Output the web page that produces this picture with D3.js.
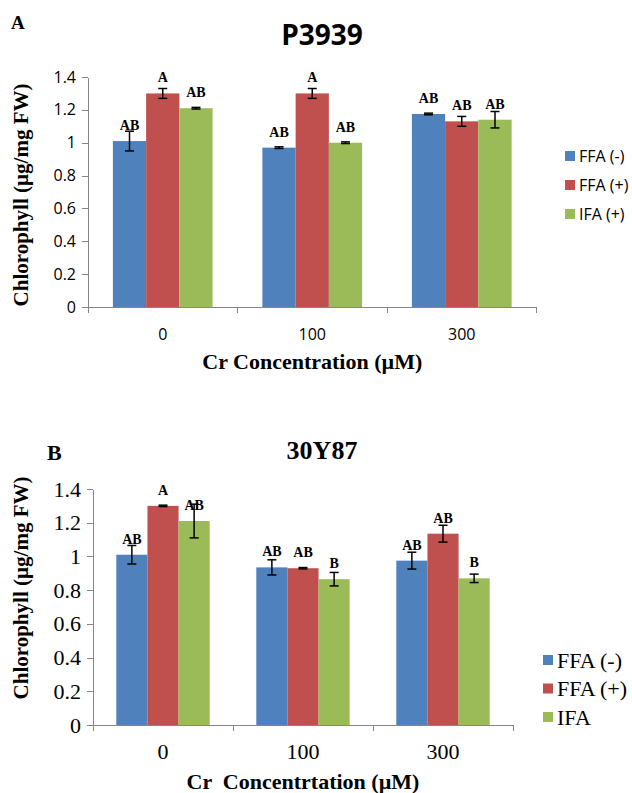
<!DOCTYPE html>
<meta charset="utf-8">
<head>
    <script src="https://d3js.org/d3.v7.min.js"></script>
    <style>
        body { margin: 0; background: #fff; }
        .axis path, .axis line { stroke: #868686; shape-rendering: crispEdges; }
    </style>
</head>
<body>
<div id="my_dataviz"></div>
<script>

// ---- data ----
var concentrations = ["0", "100", "300"];
var colors = ["#4F81BD", "#C0504D", "#9BBB59"];

// panel A : P3939
var seriesA = ["FFA (-)", "FFA (+)", "IFA (+)"];
var ffaMinusA = [1.01, 0.97, 1.175];
var ffaPlusA  = [1.30, 1.30, 1.13];
var ifaA      = [1.21, 1.00, 1.14];
var errMinusA = [0.06, 0.005, 0.005];
var errPlusA  = [0.03, 0.03, 0.03];
var errIfaA   = [0.005, 0.005, 0.05];
var lettersA  = [["AB", "AB", "AB"], ["A", "A", "AB"], ["AB", "AB", "AB"]];

// panel B : 30Y87
var seriesB = ["FFA (-)", "FFA (+)", "IFA"];
var ffaMinusB = [1.01, 0.935, 0.975];
var ffaPlusB  = [1.30, 0.93, 1.135];
var ifaB      = [1.21, 0.865, 0.87];
var errMinusB = [0.055, 0.045, 0.05];
var errPlusB  = [0.004, 0.004, 0.05];
var errIfaB   = [0.1, 0.04, 0.025];
var lettersB  = [["AB", "AB", "AB"], ["A", "AB", "AB"], ["AB", "B", "B"]];

var yTicks = [0, 0.2, 0.4, 0.6, 0.8, 1, 1.2, 1.4];

var svg = d3.select("#my_dataviz").append("svg")
    .attr("width", 632)
    .attr("height", 793);

// draws one panel
function drawPanel(p) {
    var g = svg.append("g");

    var x = d3.scaleBand().domain(concentrations).range([p.left, p.right]);
    var gw = x.bandwidth() * 0.667;
    var xs = d3.scaleBand().domain([0, 1, 2])
        .range([(x.bandwidth() - gw) / 2, (x.bandwidth() + gw) / 2]);
    var y = d3.scaleLinear().domain([0, 1.4]).range([p.bottom, p.top]);

    // y axis
    var yAxis = g.append("g").attr("class", "axis")
        .attr("transform", "translate(" + p.left + ",0)")
        .call(d3.axisLeft(y).tickValues(yTicks).tickSize(6).tickSizeOuter(0)
            .tickFormat(function (d) { return d3.format("")(+d.toFixed(1)); }));
    yAxis.selectAll("text")
        .attr("x", -p.tickGap)
        .style("font-family", p.tickFont).style("font-size", p.tickSize + "px")
        .style("fill", "#000");

    // x axis: ticks at category boundaries
    var xa = g.append("g").attr("class", "axis");
    xa.append("line")
        .attr("x1", p.left).attr("x2", p.right)
        .attr("y1", p.bottom).attr("y2", p.bottom);
    var bounds = concentrations.map(function (c) { return x(c); }).concat([p.right]);
    xa.selectAll(".xt").data(bounds).enter().append("line")
        .attr("x1", function (d) { return d; }).attr("x2", function (d) { return d; })
        .attr("y1", p.bottom).attr("y2", p.bottom + 6);
    g.selectAll(".xl").data(concentrations).enter().append("text")
        .attr("x", function (d) { return x(d) + x.bandwidth() / 2; })
        .attr("y", p.bottom + p.xLabelDy)
        .attr("text-anchor", "middle")
        .style("font-family", p.tickFont).style("font-size", p.tickSize + "px")
        .text(function (d) { return d; });

    // bars
    p.values.forEach(function (vals, s) {
        var sg = g.append("g");
        sg.selectAll("rect").data(vals).enter().append("rect")
            .attr("x", function (d, i) { return x(concentrations[i]) + xs(s); })
            .attr("width", xs.bandwidth())
            .attr("y", function (d) { return y(d); })
            .attr("height", function (d) { return p.bottom - y(d); })
            .style("fill", colors[s]);

        // error bars
        vals.forEach(function (v, i) {
            var cx = x(concentrations[i]) + xs(s) + xs.bandwidth() / 2;
            var e = p.errors[s][i];
            var hi = y(v + e), lo = y(v - e);
            sg.append("line").attr("x1", cx).attr("x2", cx).attr("y1", hi).attr("y2", lo)
                .style("stroke", "#000").style("stroke-width", 1.5);
            [hi, lo].forEach(function (yy) {
                sg.append("line").attr("x1", cx - 4.5).attr("x2", cx + 4.5)
                    .attr("y1", yy).attr("y2", yy)
                    .style("stroke", "#000").style("stroke-width", 1.5);
            });
            sg.append("text")
                .attr("x", cx).attr("y", y(v) - p.letterOffset)
                .attr("text-anchor", "middle")
                .style("font-family", "Liberation Serif").style("font-weight", "bold")
                .style("font-size", p.letterSize + "px")
                .text(p.letters[s][i]);
        });
    });

    // legend
    var lg = g.selectAll(".lg").data(p.series).enter().append("g")
        .attr("transform", function (d, i) { return "translate(" + p.legX + "," + (p.legY + i * p.legStep) + ")"; });
    lg.append("rect").attr("x", 0).attr("y", -5).attr("width", 10).attr("height", 10)
        .style("fill", function (d, i) { return colors[i]; });
    lg.append("text").attr("x", p.legTextDx).attr("dy", "0.35em")
        .style("font-family", p.legFont).style("font-size", p.legSize + "px")
        .text(function (d) { return d; });

    // titles
    g.append("text").attr("x", p.titleX).attr("y", p.titleY)
        .attr("text-anchor", "middle")
        .style("font-family", p.titleFont).style("font-weight", "bold")
        .style("font-size", p.titleSize + "px")
        .text(p.title);
    g.append("text").attr("x", p.panelX).attr("y", p.panelY)
        .style("font-family", "Liberation Serif").style("font-weight", "bold")
        .style("font-size", p.panelSize + "px")
        .text(p.panel);
    g.append("text")
        .attr("transform", "translate(" + p.yTitleX + "," + p.yTitleY + ") rotate(-90)")
        .attr("text-anchor", "middle").attr("dy", "0.35em")
        .style("font-family", "Liberation Serif").style("font-weight", "bold")
        .style("font-size", "21px")
        .text("Chlorophyll (µg/mg FW)");
    g.append("text").attr("x", (p.left + p.right) / 2).attr("y", p.xTitleY)
        .attr("text-anchor", "middle")
        .style("font-family", "Liberation Serif").style("font-weight", "bold")
        .style("font-size", "22px").style("white-space", "pre")
        .text(p.xTitle);
}

drawPanel({
    left: 88, right: 536.5, top: 77, bottom: 307,
    values: [ffaMinusA, ffaPlusA, ifaA],
    errors: [errMinusA, errPlusA, errIfaA],
    letters: lettersA, series: seriesA,
    tickFont: "Open Sans", tickSize: 16, tickGap: 12, xLabelDy: 33,
    letterSize: 14, letterOffset: 11,
    legX: 565, legY: 156, legStep: 29, legTextDx: 14, legFont: "Open Sans", legSize: 16,
    title: "P3939", titleX: 322, titleY: 45, titleFont: "Open Sans", titleSize: 28,
    panel: "A", panelX: 11, panelY: 29, panelSize: 19,
    yTitleX: 21, yTitleY: 195,
    xTitle: "Cr Concentration (µM)", xTitleY: 369
});

drawPanel({
    left: 93, right: 513, top: 489, bottom: 725,
    values: [ffaMinusB, ffaPlusB, ifaB],
    errors: [errMinusB, errPlusB, errIfaB],
    letters: lettersB, series: seriesB,
    tickFont: "Liberation Serif", tickSize: 22, tickGap: 12, xLabelDy: 34,
    letterSize: 14, letterOffset: 11,
    legX: 543, legY: 660, legStep: 28.5, legTextDx: 14, legFont: "Liberation Serif", legSize: 22,
    title: "30Y87", titleX: 322, titleY: 459, titleFont: "Liberation Serif", titleSize: 26,
    panel: "B", panelX: 47, panelY: 460, panelSize: 22,
    yTitleX: 21, yTitleY: 588,
    xTitle: "Cr  Concentrtation (µM)", xTitleY: 789
});

</script>
</body>
